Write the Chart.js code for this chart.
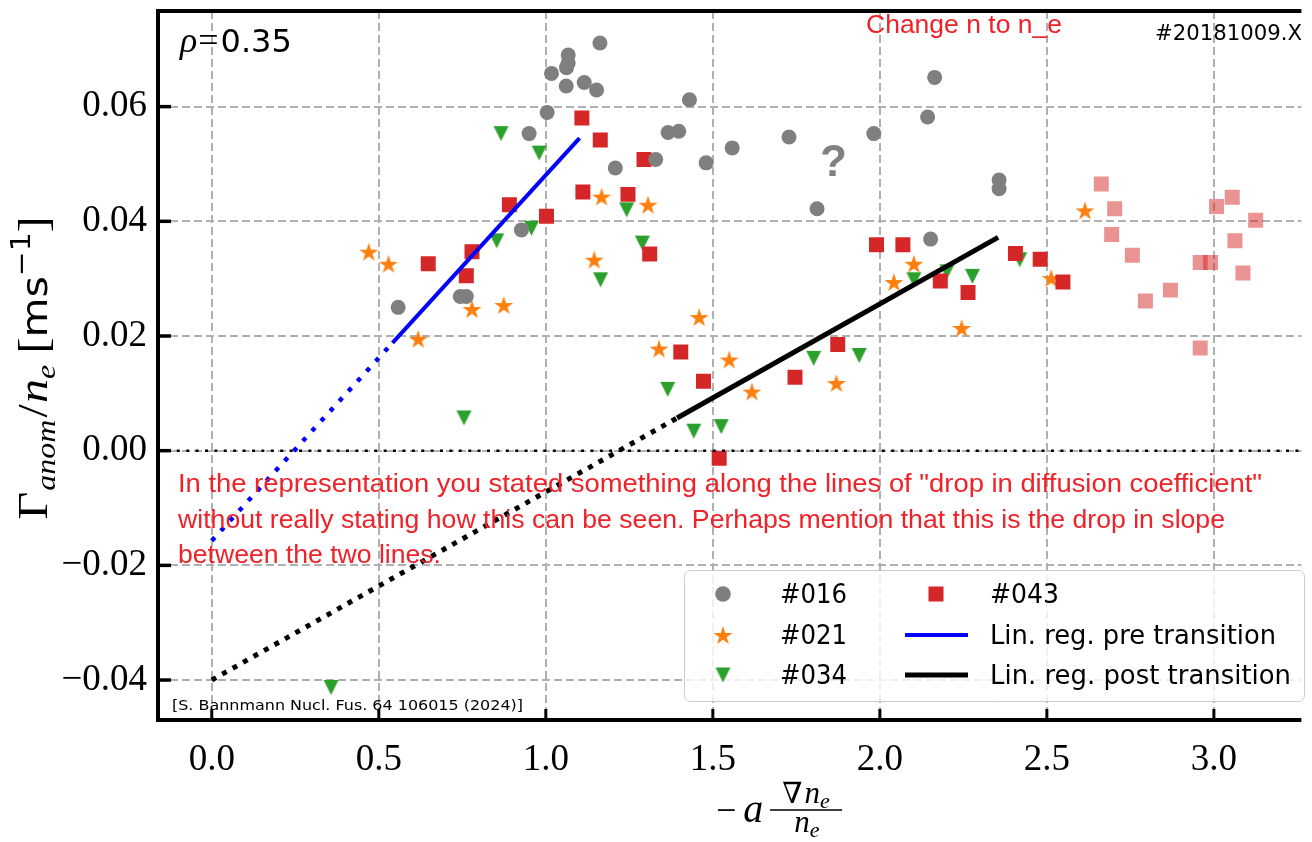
<!DOCTYPE html>
<html>
<head>
<meta charset="utf-8">
<script src="https://cdn.jsdelivr.net/npm/chart.js"></script>
<style>
  html, body { margin: 0; padding: 0; background: #fff; }
  #c { display: block; }
</style>
</head>
<body>
<canvas id="c" width="1312" height="842" style="width:1312px;height:842px"></canvas>
<script>
// ---------------- DATA ----------------
const xTickValues = [0.0, 0.5, 1.0, 1.5, 2.0, 2.5, 3.0];
const xTickLabels = ['0.0', '0.5', '1.0', '1.5', '2.0', '2.5', '3.0'];
const yTickValues = [-0.04, -0.02, 0.00, 0.02, 0.04, 0.06];
const yTickLabels = ['\u22120.04', '\u22120.02', '0.00', '0.02', '0.04', '0.06'];
const xRange = [-0.161, 3.262];
const yRange = [-0.04697, 0.07668];

// #016 (gray circles)
const x016 = [0.558, 0.744, 0.762, 0.927, 0.950, 1.004, 1.017, 1.061, 1.067, 1.067, 1.062, 1.115, 1.152, 1.162, 1.208, 1.329, 1.366, 1.398, 1.430, 1.480, 1.558, 1.728, 1.812, 1.982, 2.143, 2.152, 2.164, 2.357, 2.357];
const y016 = [0.0250, 0.0269, 0.0269, 0.0385, 0.0553, 0.0590, 0.0658, 0.0636, 0.0690, 0.0676, 0.0668, 0.0642, 0.0629, 0.0711, 0.0493, 0.0508, 0.0555, 0.0557, 0.0612, 0.0502, 0.0528, 0.0547, 0.0422, 0.0553, 0.0582, 0.0369, 0.0651, 0.0472, 0.0457];
// #021 (orange stars)
const x021 = [0.470, 0.529, 0.618, 0.779, 0.874, 1.145, 1.167, 1.306, 1.339, 1.459, 1.549, 1.617, 1.870, 2.042, 2.102, 2.245, 2.513, 2.614];
const y021 = [0.0347, 0.0326, 0.0195, 0.0247, 0.0254, 0.0333, 0.0443, 0.0429, 0.0178, 0.0233, 0.0159, 0.0103, 0.0118, 0.0294, 0.0326, 0.0214, 0.0301, 0.0419];
// #034 (green down triangles)
const x034 = [0.357, 0.755, 0.853, 0.866, 0.957, 0.980, 1.164, 1.242, 1.289, 1.365, 1.443, 1.525, 1.802, 1.938, 2.102, 2.201, 2.277, 2.419];
const y034 = [-0.0413, 0.0057, 0.0366, 0.0553, 0.0388, 0.0519, 0.0298, 0.0420, 0.0362, 0.0107, 0.0034, 0.0042, 0.0161, 0.0166, 0.0298, 0.0312, 0.0304, 0.0333];
// #043 (red squares)
const x043 = [0.648, 0.762, 0.779, 0.891, 1.002, 1.108, 1.111, 1.163, 1.246, 1.294, 1.311, 1.404, 1.472, 1.519, 1.746, 1.874, 1.990, 2.069, 2.181, 2.264, 2.406, 2.480, 2.548];
const y043 = [0.0326, 0.0305, 0.0347, 0.0429, 0.0409, 0.0580, 0.0451, 0.0542, 0.0447, 0.0508, 0.0343, 0.0172, 0.0121, -0.0013, 0.0128, 0.0185, 0.0359, 0.0359, 0.0296, 0.0276, 0.0344, 0.0334, 0.0294];
// #043 excluded (faded squares)
const x043b = [2.663, 2.694, 2.703, 2.756, 2.795, 2.870, 2.959, 2.959, 2.990, 3.008, 3.055, 3.063, 3.087, 3.125];
const y043b = [0.0465, 0.0377, 0.0422, 0.0341, 0.0261, 0.0280, 0.0179, 0.0328, 0.0328, 0.0426, 0.0442, 0.0366, 0.0310, 0.0402];
// regression lines
const preFitX = [0.541, 1.101], preFitY = [0.0188, 0.0545];
const preExtX = [0.000, 0.541], preExtY = [-0.0157, 0.0188];
const postFitX = [1.393, 2.354], postFitY = [0.0057, 0.0372];
const postExtX = [0.000, 1.393], postExtY = [-0.0400, 0.0057];
const zeroX = [-0.161, 3.262], zeroY = [0, 0];

const legendLabels = ['#016', '#021', '#034', '#043', 'Lin. reg. pre transition', 'Lin. reg. post transition'];

// ---------------- STYLE HELPERS ----------------
const C_GRAY = '#7f7f7f', C_ORANGE = '#ff7f0e', C_GREEN = '#2ca02c', C_RED = '#d62728';
const C_RED_FADE = 'rgba(214,39,40,0.5)', C_TXT_RED = 'rgb(238,34,40)';

function pts(xs, ys) { return xs.map((x, i) => ({ x: x, y: ys[i] })); }

function makeStar(R, color) {
  const s = Math.ceil(2 * R + 2);
  const c = document.createElement('canvas'); c.width = s; c.height = s;
  const g = c.getContext('2d'); g.translate(s / 2, s / 2 + R * 0.1);
  g.beginPath();
  for (let i = 0; i < 10; i++) {
    const r = (i % 2) ? R * 0.381966 : R;
    const a = -Math.PI / 2 + i * Math.PI / 5;
    g.lineTo(r * Math.cos(a), r * Math.sin(a));
  }
  g.closePath(); g.fillStyle = color; g.fill();
  return c;
}
function makeTriDown(w, color) {
  const s = Math.ceil(w + 2);
  const c = document.createElement('canvas'); c.width = s; c.height = s;
  const g = c.getContext('2d'); g.translate(s / 2, s / 2);
  const h = w / 2;
  g.beginPath(); g.moveTo(-h, -h); g.lineTo(h, -h); g.lineTo(0, h); g.closePath();
  g.fillStyle = color; g.fill();
  return c;
}
const starImg = makeStar(10, C_ORANGE);
const triImg = makeTriDown(15, C_GREEN);

// ---------------- PLUGIN: spines, ticks, texts, legend ----------------
function drawRun(ctx, pieces, x, y) {
  let cx = x;
  for (const p of pieces) {
    ctx.font = p.f;
    ctx.fillText(p.t, cx, y + (p.dy || 0));
    cx += ctx.measureText(p.t).width + (p.gap || 0);
  }
  return cx - x;
}
function runWidth(ctx, pieces) {
  let w = 0;
  for (const p of pieces) { ctx.font = p.f; w += ctx.measureText(p.t).width + (p.gap || 0); }
  return w;
}
function fitText(ctx, text, font, x, y, width) {
  ctx.save();
  ctx.font = font;
  const w = ctx.measureText(text).width;
  ctx.translate(x, y);
  ctx.scale(width / w, 1);
  ctx.fillText(text, 0, 0);
  ctx.restore();
}

const SERIF = '"Liberation Serif", "DejaVu Serif", serif';
const SANS = '"DejaVu Sans", sans-serif';
const ARIAL = '"Liberation Sans", Arial, sans-serif';

const decor = {
  id: 'decor',
  afterDraw(chart) {
    const ctx = chart.ctx;
    const a = chart.chartArea;
    const xs = chart.scales.x, ys = chart.scales.y;
    ctx.save();
    ctx.fillStyle = '#000';
    ctx.textAlign = 'left';
    ctx.textBaseline = 'alphabetic';

    // spines
    ctx.strokeStyle = '#000';
    ctx.lineCap = 'butt';
    ctx.lineWidth = 4;
    ctx.beginPath(); ctx.moveTo(a.left - 2, a.top); ctx.lineTo(a.right, a.top); ctx.stroke();
    ctx.beginPath(); ctx.moveTo(a.left - 2, a.bottom); ctx.lineTo(a.right, a.bottom); ctx.stroke();
    ctx.beginPath(); ctx.moveTo(a.left, a.top - 2); ctx.lineTo(a.left, a.bottom + 2); ctx.stroke();
    // inward ticks
    ctx.lineWidth = 3.5;
    yTickValues.forEach(v => {
      const py = ys.getPixelForValue(v);
      ctx.beginPath(); ctx.moveTo(a.left, py); ctx.lineTo(a.left + 13, py); ctx.stroke();
    });
    ctx.lineWidth = 3;
    xTickValues.forEach(v => {
      const px = xs.getPixelForValue(v);
      ctx.beginPath(); ctx.moveTo(px, a.bottom); ctx.lineTo(px, a.bottom - 11); ctx.stroke();
    });

    // rho label
    drawRun(ctx, [
      { t: '\u03C1', f: 'italic 36px ' + SERIF, gap: 1 },
      { t: '=', f: '36px ' + SERIF, gap: 2 },
      { t: '0.35', f: '32px ' + SANS }
    ], 180, 52);

    // shot id
    fitText(ctx, '#20181009.X', '21px ' + SANS, 1155, 40, 147);

    // red notes
    ctx.fillStyle = C_TXT_RED;
    fitText(ctx, 'Change n to n_e', '25px ' + ARIAL, 866, 33, 196);
    fitText(ctx, 'In the representation you stated something along the lines of "drop in diffusion coefficient"', '25px ' + ARIAL, 178, 492, 1084);
    fitText(ctx, 'without really stating how this can be seen. Perhaps mention that this is the drop in slope', '25px ' + ARIAL, 178, 528, 1047);
    fitText(ctx, 'between the two lines.', '25px ' + ARIAL, 178, 563, 263);

    // question mark
    ctx.fillStyle = '#808080';
    ctx.font = 'bold 44px ' + ARIAL;
    ctx.fillText('?', 820, 176);

    // citation
    ctx.fillStyle = '#000';
    fitText(ctx, '[S. Bannmann Nucl. Fus. 64 106015 (2024)]', '14px ' + SANS, 172, 710, 351);

    // legend
    ctx.save();
    ctx.beginPath();
    ctx.roundRect(684.5, 570.5, 620, 131, 6);
    ctx.fillStyle = 'rgba(255,255,255,0.8)';
    ctx.fill();
    ctx.strokeStyle = '#cccccc'; ctx.lineWidth = 1; ctx.stroke();
    ctx.restore();
    const rows = [594, 635, 675];
    ctx.fillStyle = C_GRAY;
    ctx.beginPath(); ctx.arc(723, rows[0], 7.8, 0, Math.PI * 2); ctx.fill();
    ctx.drawImage(starImg, 723 - starImg.width / 2, rows[1] - starImg.height / 2);
    ctx.drawImage(triImg, 723 - triImg.width / 2, rows[2] - triImg.height / 2);
    ctx.fillStyle = C_RED;
    ctx.fillRect(936 - 7.5, rows[0] - 7.5, 15, 15);
    ctx.strokeStyle = '#0000ff'; ctx.lineWidth = 4;
    ctx.beginPath(); ctx.moveTo(905, rows[1]); ctx.lineTo(968, rows[1]); ctx.stroke();
    ctx.strokeStyle = '#000'; ctx.lineWidth = 5;
    ctx.beginPath(); ctx.moveTo(905, rows[2]); ctx.lineTo(968, rows[2]); ctx.stroke();
    ctx.fillStyle = '#000';
    const lf = '26px ' + SANS;
    fitText(ctx, legendLabels[0], lf, 780, 603, 67);
    fitText(ctx, legendLabels[1], lf, 780, 644, 67);
    fitText(ctx, legendLabels[2], lf, 780, 684, 67);
    fitText(ctx, legendLabels[3], lf, 990, 603, 69);
    fitText(ctx, legendLabels[4], lf, 990, 644, 286);
    fitText(ctx, legendLabels[5], lf, 990, 684, 301);

    // y axis label (rotated)
    ctx.fillStyle = '#000';
    const yl = [
      { t: '\u0393', f: '42px ' + SERIF, gap: 1 },
      { t: 'anom', f: 'italic 28px ' + SERIF, dy: 8, gap: 2 },
      { t: '/', f: '42px ' + SERIF, gap: 1 },
      { t: 'n', f: 'italic 42px ' + SERIF },
      { t: 'e', f: 'italic 28px ' + SERIF, dy: 8, gap: 10 },
      { t: '[', f: '42px ' + SERIF },
      { t: 'ms', f: '36px ' + SANS },
      { t: '\u22121', f: '26px ' + SANS, dy: -17 },
      { t: ']', f: '42px ' + SERIF }
    ];
    const ylw = runWidth(ctx, yl);
    ctx.save();
    ctx.translate(47, 368);
    ctx.rotate(-Math.PI / 2);
    ctx.scale(303 / ylw, 1);
    drawRun(ctx, yl, -ylw / 2, 0);
    ctx.restore();

    // x axis label
    drawRun(ctx, [
      { t: '\u2212', f: '36px ' + SERIF, gap: 7 },
      { t: 'a', f: 'italic 40px ' + SERIF }
    ], 716, 822);
    ctx.lineWidth = 1.6; ctx.strokeStyle = '#000';
    ctx.beginPath(); ctx.moveTo(770, 810); ctx.lineTo(842, 810); ctx.stroke();
    const num = [
      { t: '\u2207', f: '29px ' + SERIF, gap: 2 },
      { t: 'n', f: 'italic 31px ' + SERIF },
      { t: 'e', f: 'italic 22px ' + SERIF, dy: 5 }
    ];
    const den = [
      { t: 'n', f: 'italic 31px ' + SERIF },
      { t: 'e', f: 'italic 22px ' + SERIF, dy: 5 }
    ];
    drawRun(ctx, num, 806 - runWidth(ctx, num) / 2, 803);
    drawRun(ctx, den, 807 - runWidth(ctx, den) / 2, 832);

    ctx.restore();
  }
};

// ---------------- CHART ----------------
const lineDS = (label, xs, ys, color, width, dash, order) => ({
  type: 'line', label: label, data: pts(xs, ys),
  borderColor: color, borderWidth: width, borderDash: dash, borderCapStyle: 'butt',
  pointRadius: 0, pointHoverRadius: 0, fill: false, tension: 0, order: order
});

new Chart(document.getElementById('c').getContext('2d'), {
  type: 'scatter',
  data: {
    datasets: [
      lineDS('Lin. reg. pre transition', preFitX, preFitY, '#0000ff', 4, [], 0),
      lineDS('pre ext', preExtX, preExtY, '#0000ff', 4.5, [4.5, 9], 0),
      lineDS('Lin. reg. post transition', postFitX, postFitY, '#000000', 5, [], 0),
      lineDS('post ext', postExtX, postExtY, '#000000', 5, [5, 7], 0),
      lineDS('zero', zeroX, zeroY, '#000000', 2.5, [3, 6.4], 0),
      { label: '#016', data: pts(x016, y016), pointStyle: 'circle', pointRadius: 7.5,
        backgroundColor: C_GRAY, borderWidth: 0, order: 1 },
      { label: '#043 faded', data: pts(x043b, y043b), pointStyle: 'rect', pointRadius: 10.6,
        backgroundColor: C_RED_FADE, borderWidth: 0, order: 2 },
      { label: '#043', data: pts(x043, y043), pointStyle: 'rect', pointRadius: 10.6,
        backgroundColor: C_RED, borderWidth: 0, order: 3 },
      { label: '#034', data: pts(x034, y034), pointStyle: triImg, pointRadius: 8,
        backgroundColor: C_GREEN, borderWidth: 0, order: 4 },
      { label: '#021', data: pts(x021, y021), pointStyle: starImg, pointRadius: 9,
        backgroundColor: C_ORANGE, borderWidth: 0, order: 5 }
    ]
  },
  options: {
    responsive: false,
    animation: false,
    devicePixelRatio: 1,
    layout: { padding: { top: 11, right: 0, left: 0, bottom: 0 } },
    plugins: { legend: { display: false }, tooltip: { enabled: false } },
    scales: {
      x: {
        type: 'linear', min: xRange[0], max: xRange[1],
        afterFit: s => { s.height = 122; s.paddingLeft = 0; s.paddingRight = 0; },
        afterBuildTicks: s => { s.ticks = xTickValues.map(v => ({ value: v })); },
        ticks: {
          color: '#000', padding: 18, maxRotation: 0, autoSkip: false,
          font: { family: 'Liberation Serif', size: 37 },
          callback: (v) => { const i = xTickValues.indexOf(v); return i >= 0 ? xTickLabels[i] : ''; }
        },
        grid: { color: '#b0b0b0', lineWidth: 2, drawTicks: false },
        border: { display: false, dash: [8, 4] }
      },
      y: {
        type: 'linear', min: yRange[0], max: yRange[1],
        afterFit: s => { s.width = 158; s.paddingTop = 0; s.paddingBottom = 0; },
        afterBuildTicks: s => { s.ticks = yTickValues.map(v => ({ value: v })); },
        ticks: {
          color: '#000', padding: 11, autoSkip: false,
          font: { family: 'Liberation Serif', size: 37 },
          callback: (v) => { const i = yTickValues.indexOf(v); return i >= 0 ? yTickLabels[i] : ''; }
        },
        grid: { color: '#b0b0b0', lineWidth: 2, drawTicks: false },
        border: { display: false, dash: [8, 4] }
      }
    }
  },
  plugins: [decor]
});
</script>
</body>
</html>
